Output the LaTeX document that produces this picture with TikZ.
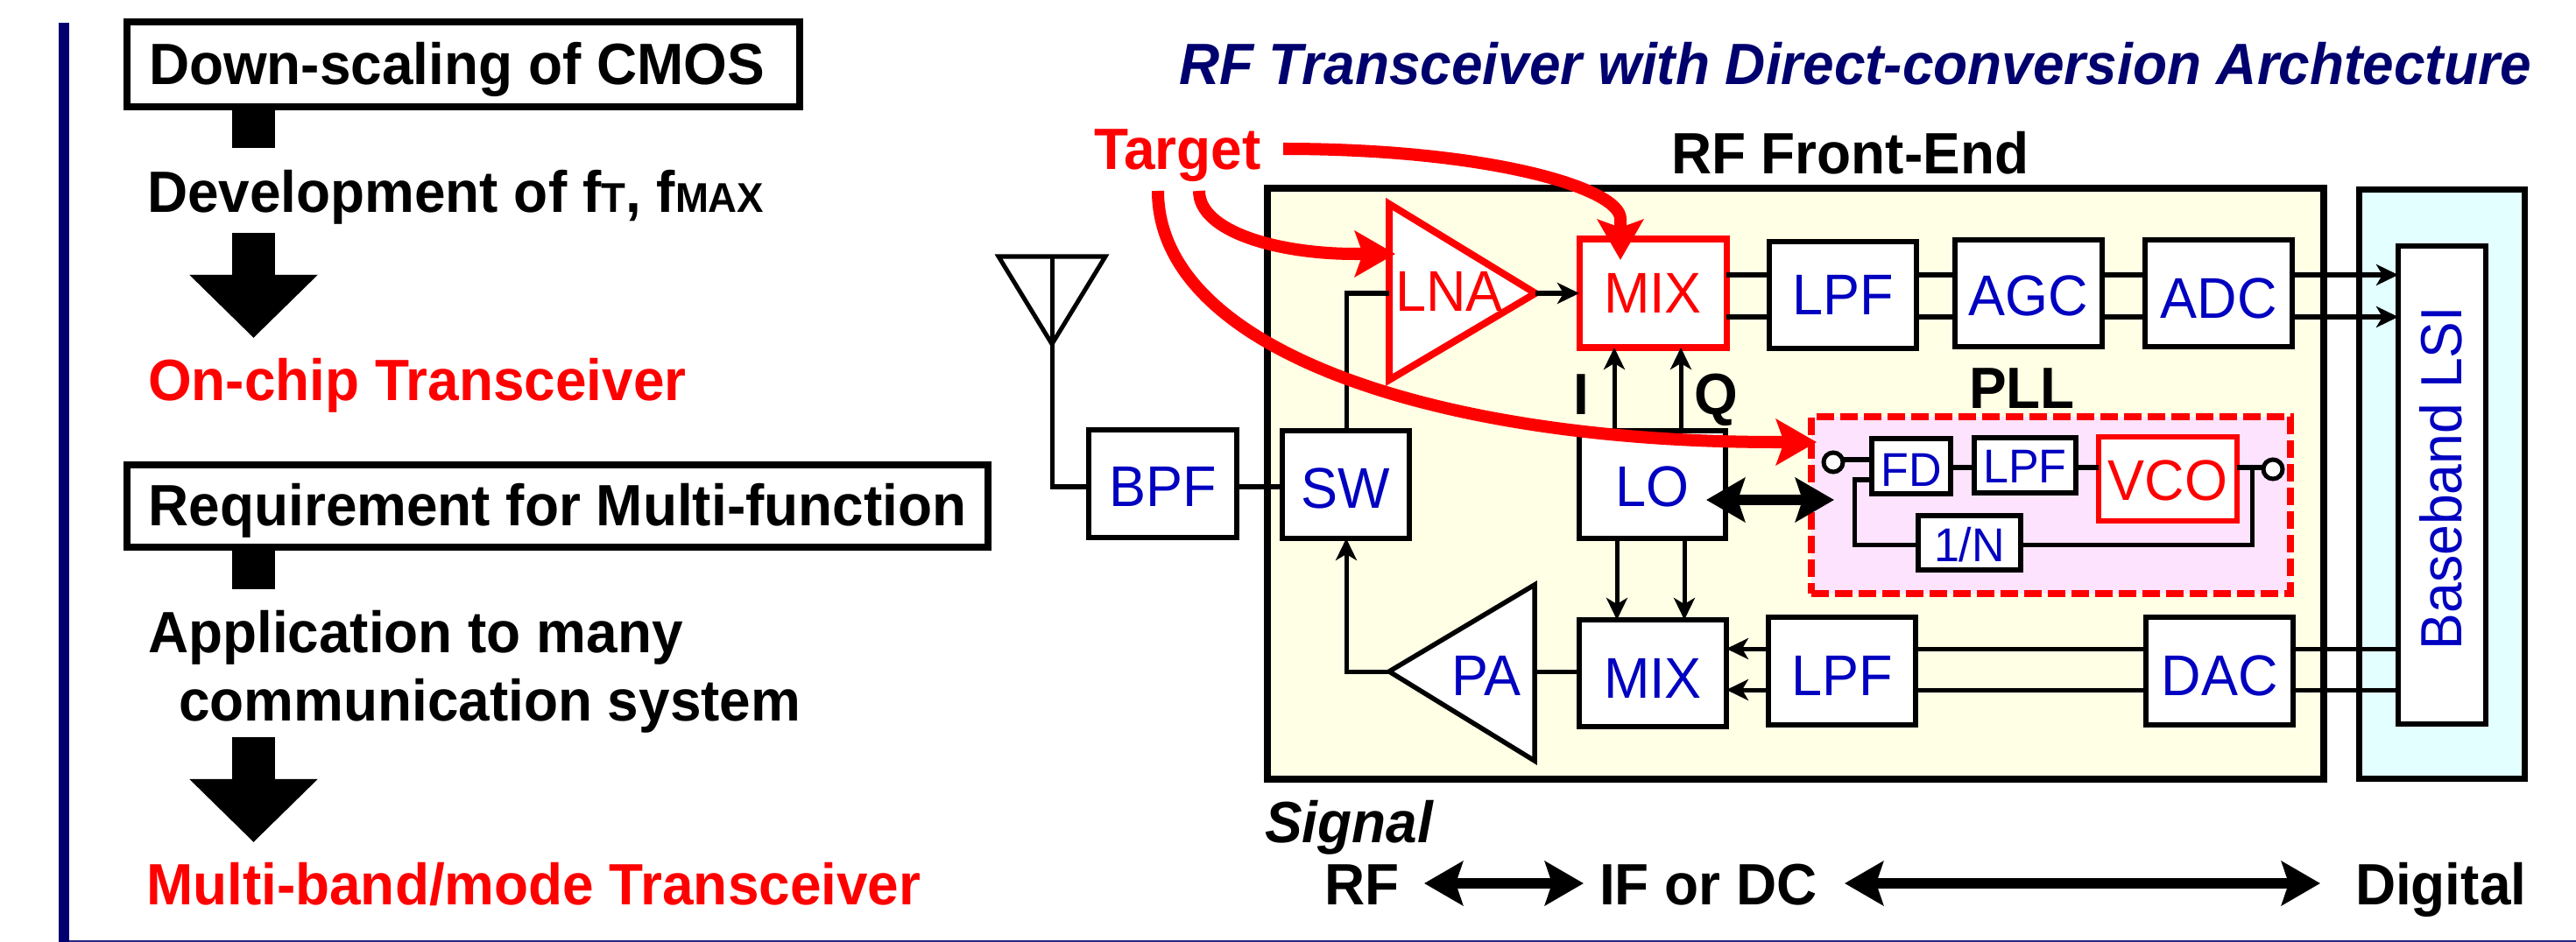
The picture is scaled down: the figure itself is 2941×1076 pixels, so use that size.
\documentclass[tikz,border=0pt]{standalone}
\usepackage{fontspec}
\setmainfont[FakeStretch=0.96]{Liberation Sans}
\usetikzlibrary{arrows.meta}
\definecolor{navybar}{RGB}{0,0,112}
\definecolor{navyt}{RGB}{0,0,110}
\definecolor{blockblue}{RGB}{0,0,192}
\definecolor{frontfill}{RGB}{255,255,229}
\definecolor{basefill}{RGB}{227,255,255}
\definecolor{pllfill}{RGB}{253,227,253}
\newcommand\fbig{\fontsize{18.93pt}{22pt}\selectfont\bfseries}
\newcommand\fsm{\fontsize{13.5pt}{15pt}\selectfont\bfseries}
\newcommand\freg{\fontsize{18.65pt}{22pt}\selectfont}
\newcommand\fmini{\fontsize{15.4pt}{18pt}\selectfont}
\newcommand\nbox[7][]{\node[blockbox,#1,minimum width={(#5-#3)*0.01cm},minimum height={(#6-#4)*0.01cm}] (#2) at ({(#3+#5)/2},{(#4+#6)/2}) {#7};}
\newcommand\txt[5][]{\node[plaintext,#1] (#2) at (#3,#4) {#5};}
\tikzset{
  plaintext/.style={anchor=base west,inner sep=0pt,outer sep=0pt,font=\fbig},
  blockbox/.style={draw=black,fill=white,line width=0.06cm,inner sep=0pt,outer sep=0pt,
    text=blockblue,font=\freg,text height=0.45cm,text depth=0pt},
  redbox/.style={draw=red,text=red},
  headbox/.style={line width=0.08cm,text=black,font=\fbig,text depth=0pt},
  wire/.style={line width=0.05cm,draw=black},
  wirea/.style={wire,-{Stealth[length=0.25cm,width=0.24cm,inset=0.07cm]}},
  stub/.style={line width=0.49cm,draw=black},
  fatarrow/.style={stub,-{Triangle[length=0.72cm,width=1.42cm]}},
  redcurve/.style={line width=0.14cm,draw=red,-{Stealth[length=0.46cm,width=0.52cm,inset=0.09cm]}},
  dbl/.style={line width=0.125cm,draw=black,{Stealth[length=0.44cm,width=0.5cm,inset=0.08cm]}-{Stealth[length=0.44cm,width=0.5cm,inset=0.08cm]}},
}
\begin{document}
\begin{tikzpicture}[x=0.01cm,y=-0.01cm]
\useasboundingbox (0,0) rectangle (2941,1076);
% page furniture
\fill[navybar] (67,26) rectangle (79,1076);
\fill[navyt!85!white] (79,1074) rectangle (2941,1076);
% left column
\nbox[headbox]{hA}{145}{25.5}{913}{122}{Down-scaling of CMOS\hspace*{0.15cm}}
\txt{tDev}{168}{242}{Development of f{\fsm T}, f{\fsm MAX}}
\txt[text=red]{tChip}{169}{457}{On-chip Transceiver}
\nbox[headbox]{hB}{145}{531}{1128}{625}{Requirement for Multi-function}
\txt{tApp}{169}{745}{Application to many}
\txt{tCom}{204}{823}{communication system}
\txt[text=red]{tMulti}{167}{1033}{Multi-band/mode Transceiver}
\coordinate (s1) at (289.5,169); \coordinate (a1a) at (289.5,266); \coordinate (a1b) at (289.5,386);
\coordinate (s2) at (289.5,673); \coordinate (a2a) at (289.5,842); \coordinate (a2b) at (289.5,962);
\draw[stub] (hA.south -| s1) -- (s1);
\draw[fatarrow] (a1a) -- (a1b);
\draw[stub] (hB.south -| s2) -- (s2);
\draw[fatarrow] (a2a) -- (a2b);
% titles
\txt[text=navyt,font=\fbig\itshape]{tTitle}{1346}{97}{RF Transceiver with Direct-conversion Archtecture}
\txt[text=red]{tTarget}{1249}{194}{Target}
\txt{tFront}{1908}{199}{RF Front-End}
% frames
\nbox[line width=0.08cm,fill=frontfill]{front}{1447}{215}{2653}{890}{}
\nbox[line width=0.07cm,fill=basefill]{base}{2693.5}{216.5}{2882}{889}{}
\nbox[line width=0.06cm]{lsi}{2738}{281}{2837.5}{827}{}
\node[rotate=90,anchor=base west,inner sep=0pt,text=blockblue,font=\fontsize{18.5pt}{20pt}\selectfont] (tLSI) at (2810,743) {\scalebox{1}[1.02]{Baseband LSI}};
% antenna
\coordinate (antL) at (1140,293); \coordinate (antR) at (1262,293); \coordinate (antT) at (1201,393); \coordinate (antC) at (1201,293);
\draw[line width=0.05cm,line join=miter] (antL) -- (antR) -- (antT) -- cycle;
% blocks
\nbox[text height=0.51cm]{BPF}{1243}{491}{1412}{614}{BPF}
\nbox[text height=0.53cm]{SW}{1464}{492}{1609}{615}{SW}
\nbox[text height=0.49cm]{LO}{1803}{492}{1970}{615}{LO}
\nbox[redbox,line width=0.07cm]{MIXa}{1803}{273}{1971}{397}{MIX}
\nbox[]{LPFa}{2020}{276}{2188}{398}{LPF}
\nbox[text height=0.50cm]{AGC}{2232}{274}{2400}{396}{AGC}
\nbox[text height=0.56cm]{ADC}{2449}{274}{2617}{396}{ADC}
\nbox[text height=0.56cm]{MIXb}{1803}{708}{1971}{830}{MIX}
\nbox[text height=0.55cm]{LPFb}{2019}{705}{2187}{828}{LPF}
\nbox[text height=0.55cm]{DAC}{2450}{705}{2618}{828}{DAC}
% PLL
\txt{tPLL}{2248}{466}{PLL}
\nbox[draw=red,fill=pllfill,line width=0.08cm,dash pattern=on 0.2cm off 0.07cm]{PLLbox}{2068}{476}{2615}{678}{}
\nbox[font=\fmini,text height=0.45cm]{FD}{2137}{501}{2227}{564}{FD}
\nbox[font=\fmini,text height=0.39cm]{LPFc}{2254}{500}{2370}{563}{LPF}
\nbox[redbox,line width=0.06cm,text height=0.48cm]{VCO}{2396}{499}{2554}{595}{VCO}
\nbox[font=\fmini,text height=0.42cm]{DIV}{2190}{589}{2307}{651}{1/N}
\node[circle,draw=black,fill=white,line width=0.05cm,minimum size=0.22cm,inner sep=0pt,outer sep=0pt] (cL) at (2093,528) {};
\node[circle,draw=black,fill=white,line width=0.05cm,minimum size=0.22cm,inner sep=0pt,outer sep=0pt] (cR) at (2595,536) {};
% LNA / PA triangles
\coordinate (lnaT) at (1586,233); \coordinate (lnaB) at (1586,434); \coordinate (lnaO) at (1753,335); \coordinate (lnaI) at (1586,335);
\draw[draw=red,fill=white,line width=0.08cm,line join=miter] (lnaT) -- (lnaO) -- (lnaB) -- cycle;
\node[plaintext,font=\freg,text=red] (LNA) at (1593,356) {LNA};
\coordinate (paT) at (1752,668); \coordinate (paB) at (1752,869); \coordinate (paO) at (1586,767); \coordinate (paI) at (1752,767);
\draw[fill=white,line width=0.055cm,line join=miter] (paT) -- (paB) -- (paO) -- cycle;
\node[plaintext,font=\freg,text=blockblue] (PA) at (1657,794) {PA};
% guide coordinates
\coordinate (rxI) at (0,314); \coordinate (rxQ) at (0,362);
\coordinate (txI) at (0,741); \coordinate (txQ) at (0,788);
\coordinate (rfY) at (0,556); \coordinate (xI) at (1843,0); \coordinate (xQ) at (1919,0);
\coordinate (xIb) at (1846,0); \coordinate (xQb) at (1923,0); \coordinate (swX) at (1537,0);
\coordinate (p1) at (0,525); \coordinate (p2) at (0,534); \coordinate (p3) at (0,548); \coordinate (p4) at (0,622);
\coordinate (fbL) at (2117,0); \coordinate (fbR) at (2571,0);
% connectors
\draw[wire] (antC) -- (antC |- rfY) -- (BPF.west |- rfY);
\draw[wire] (BPF.east |- rfY) -- (SW.west |- rfY);
\draw[wire] (SW.north -| swX) -- (swX |- lnaI) -- (lnaI);
\draw[wirea] (lnaO) -- (MIXa.west |- lnaO);
\draw[wire] (MIXa.east |- rxI) -- (LPFa.west |- rxI);
\draw[wire] (MIXa.east |- rxQ) -- (LPFa.west |- rxQ);
\draw[wire] (LPFa.east |- rxI) -- (AGC.west |- rxI);
\draw[wire] (LPFa.east |- rxQ) -- (AGC.west |- rxQ);
\draw[wire] (AGC.east |- rxI) -- (ADC.west |- rxI);
\draw[wire] (AGC.east |- rxQ) -- (ADC.west |- rxQ);
\draw[wirea] (ADC.east |- rxI) -- (lsi.west |- rxI);
\draw[wirea] (ADC.east |- rxQ) -- (lsi.west |- rxQ);
\draw[wirea] (LO.north -| xI) -- (MIXa.south -| xI);
\draw[wirea] (LO.north -| xQ) -- (MIXa.south -| xQ);
\draw[wirea] (LO.south -| xIb) -- (MIXb.north -| xIb);
\draw[wirea] (LO.south -| xQb) -- (MIXb.north -| xQb);
\draw[wire] (lsi.west |- txI) -- (DAC.east |- txI);
\draw[wire] (lsi.west |- txQ) -- (DAC.east |- txQ);
\draw[wire] (DAC.west |- txI) -- (LPFb.east |- txI);
\draw[wire] (DAC.west |- txQ) -- (LPFb.east |- txQ);
\draw[wirea] (LPFb.west |- txI) -- (MIXb.east |- txI);
\draw[wirea] (LPFb.west |- txQ) -- (MIXb.east |- txQ);
\draw[wire] (MIXb.west |- paI) -- (paI);
\draw[wirea] (paO) -- (swX |- paO) -- (SW.south -| swX);
\draw[wire] (cL.east |- p1) -- (FD.west |- p1);
\draw[wire] (FD.east |- p2) -- (LPFc.west |- p2);
\draw[wire] (LPFc.east |- p2) -- (VCO.west |- p2);
\draw[wire] (VCO.east |- p2) -- (cR.west |- p2);
\draw[wire,line join=miter] (fbR |- p2) -- (fbR |- p4) -- (DIV.east |- p4);
\draw[wire,line join=miter] (DIV.west |- p4) -- (fbL |- p4) -- (fbL |- p3) -- (FD.west |- p3);
% I Q labels
\txt{tI}{1796}{473}{I}
\txt{tQ}{1934}{473}{Q}
% target curves
\coordinate (t1) at (1465,170); \coordinate (t1e) at (1850,297);
\coordinate (t2) at (1369,218); \coordinate (t2e) at (1593,290);
\coordinate (t3) at (1322,218); \coordinate (t3e) at (2074,505);
\draw[redcurve] (t1) .. controls (1700,170) and (1850,215) .. (1850,250) -- (t1e);
\draw[redcurve] (t2) .. controls (1369,265) and (1460,290) .. (1547,290) -- (t2e);
\draw[redcurve] (t3) .. controls (1322,400) and (1640,505) .. (2028,505) -- (t3e);
% LO <-> PLL
\coordinate (bL) at (1948,571); \coordinate (bR) at (2094,571);
\draw[dbl] (bL) -- (bR);
% signal row
\txt[font=\fbig\itshape]{tSig}{1444}{962}{Signal}
\txt{tRF}{1512}{1033}{RF}
\txt{tIF}{1826}{1033}{IF or DC}
\txt{tDig}{2689}{1033}{Digital}
\coordinate (sA) at (1626,1009); \coordinate (sB) at (1808,1009);
\coordinate (sC) at (2106,1009); \coordinate (sD) at (2649,1009);
\draw[dbl] (sA) -- (sB);
\draw[dbl] (sC) -- (sD);
\end{tikzpicture}
\end{document}
